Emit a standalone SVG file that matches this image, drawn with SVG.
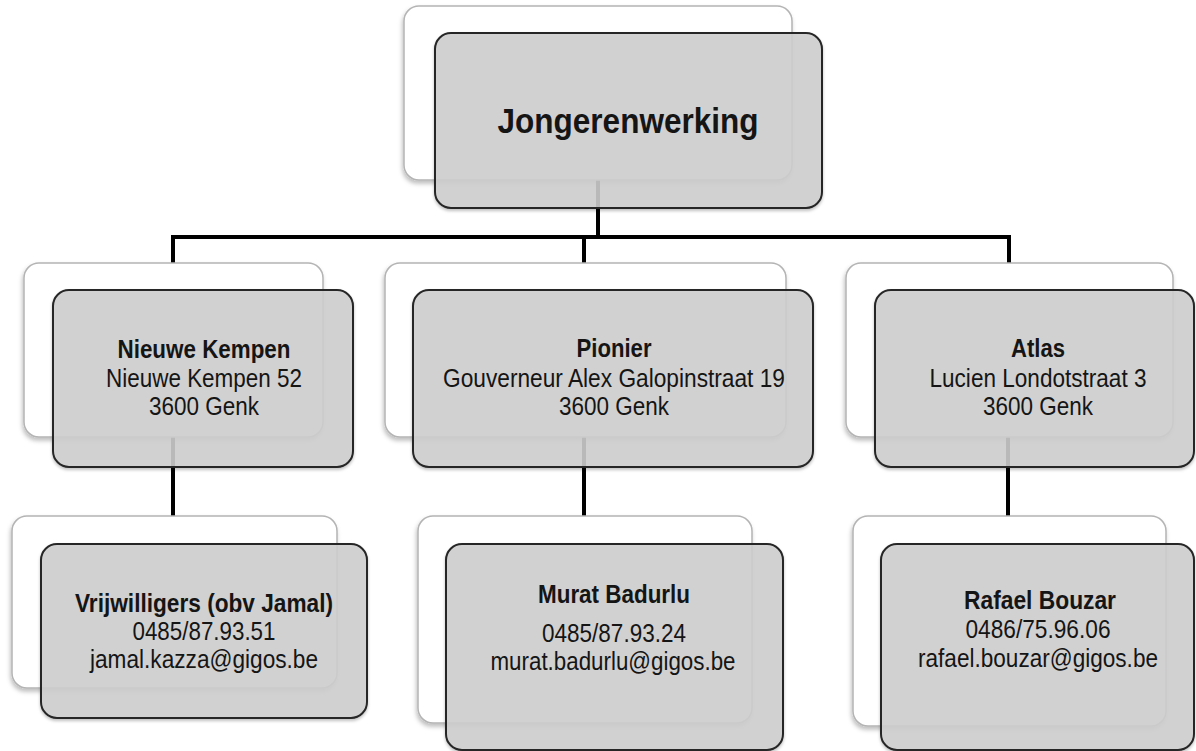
<svg xmlns="http://www.w3.org/2000/svg" width="1196" height="751" viewBox="0 0 1196 751">
  <defs>
    <filter id="soft" x="-10%" y="-10%" width="120%" height="125%">
      <feDropShadow dx="-1" dy="3" stdDeviation="2" flood-color="#000" flood-opacity="0.25"/>
    </filter>
    <filter id="softFront" x="-10%" y="-10%" width="120%" height="125%">
      <feDropShadow dx="0" dy="2" stdDeviation="1.5" flood-color="#000" flood-opacity="0.25"/>
    </filter>
  </defs>
  <style>
    .back { fill: #ffffff; stroke: #b4b4b4; stroke-width: 1.5; filter: url(#soft); }
    .front { fill: #cfcfcf; fill-opacity: 0.88; stroke: #262626; stroke-width: 2; filter: url(#softFront); }
    .conn { fill: none; stroke: #000; stroke-width: 4; stroke-linejoin: miter; }
    text { font-family: "Liberation Sans", Arial, sans-serif; fill: #151515; text-anchor: middle; }
    .t { font-size: 25px; }
    .b { font-size: 25px; font-weight: bold; }
    .title { font-size: 35px; font-weight: bold; }
  </style>

  <!-- connectors (drawn first so the cards sit on top) -->
  <g id="connectors">
    <path class="conn" d="M598,180 V237 M173,263 V237 H1009 V263 M584,237 V263"/>
    <path class="conn" d="M173,437 V516"/>
    <path class="conn" d="M584,437 V516"/>
    <path class="conn" d="M1008,437 V516"/>
  </g>

  <!-- root -->
  <g id="node-jongerenwerking">
    <rect class="back" x="404" y="6" width="388" height="174" rx="15"/>
    <rect class="front" x="435" y="33" width="387" height="175" rx="16"/>
    <text class="title" x="628" y="133" textLength="261" lengthAdjust="spacingAndGlyphs">Jongerenwerking</text>
  </g>

  <!-- locations -->
  <g id="node-nieuwe-kempen">
    <rect class="back" x="24" y="263" width="299" height="174" rx="15"/>
    <rect class="front" x="53" y="290" width="300" height="177" rx="16"/>
    <text class="b" x="204" y="358" textLength="173" lengthAdjust="spacingAndGlyphs">Nieuwe Kempen</text>
    <text class="t" x="204" y="387" textLength="196" lengthAdjust="spacingAndGlyphs">Nieuwe Kempen 52</text>
    <text class="t" x="204" y="415" textLength="110" lengthAdjust="spacingAndGlyphs">3600 Genk</text>
  </g>

  <g id="node-pionier">
    <rect class="back" x="385" y="263" width="401" height="174" rx="15"/>
    <rect class="front" x="413" y="290" width="400" height="177" rx="16"/>
    <text class="b" x="614" y="357" textLength="75" lengthAdjust="spacingAndGlyphs">Pionier</text>
    <text class="t" x="614" y="387" textLength="342" lengthAdjust="spacingAndGlyphs">Gouverneur Alex Galopinstraat 19</text>
    <text class="t" x="614" y="415" textLength="110" lengthAdjust="spacingAndGlyphs">3600 Genk</text>
  </g>

  <g id="node-atlas">
    <rect class="back" x="846" y="263" width="327" height="174" rx="15"/>
    <rect class="front" x="875" y="290" width="319" height="177" rx="16"/>
    <text class="b" x="1038" y="357" textLength="54" lengthAdjust="spacingAndGlyphs">Atlas</text>
    <text class="t" x="1038" y="387" textLength="217" lengthAdjust="spacingAndGlyphs">Lucien Londotstraat 3</text>
    <text class="t" x="1038" y="415" textLength="110" lengthAdjust="spacingAndGlyphs">3600 Genk</text>
  </g>

  <!-- contacts -->
  <g id="node-vrijwilligers">
    <rect class="back" x="12" y="516" width="325" height="172" rx="15"/>
    <rect class="front" x="41" y="544" width="326" height="174" rx="16"/>
    <text class="b" x="204" y="612" textLength="258" lengthAdjust="spacingAndGlyphs">Vrijwilligers (obv Jamal)</text>
    <text class="t" x="204" y="640" textLength="143" lengthAdjust="spacingAndGlyphs">0485/87.93.51</text>
    <text class="t" x="204" y="668" textLength="228" lengthAdjust="spacingAndGlyphs">jamal.kazza@gigos.be</text>
  </g>

  <g id="node-murat">
    <rect class="back" x="418" y="516" width="334" height="207" rx="15"/>
    <rect class="front" x="446" y="544" width="337" height="206" rx="16"/>
    <text class="b" x="614" y="603" textLength="152" lengthAdjust="spacingAndGlyphs">Murat Badurlu</text>
    <text class="t" x="614" y="642" textLength="144" lengthAdjust="spacingAndGlyphs">0485/87.93.24</text>
    <text class="t" x="613" y="670" textLength="245" lengthAdjust="spacingAndGlyphs">murat.badurlu@gigos.be</text>
  </g>

  <g id="node-rafael">
    <rect class="back" x="853" y="516" width="313" height="210" rx="15"/>
    <rect class="front" x="881" y="544" width="313" height="206" rx="16"/>
    <text class="b" x="1040" y="609" textLength="152" lengthAdjust="spacingAndGlyphs">Rafael Bouzar</text>
    <text class="t" x="1038" y="638" textLength="145" lengthAdjust="spacingAndGlyphs">0486/75.96.06</text>
    <text class="t" x="1038" y="667" textLength="240" lengthAdjust="spacingAndGlyphs">rafael.bouzar@gigos.be</text>
  </g>
</svg>
